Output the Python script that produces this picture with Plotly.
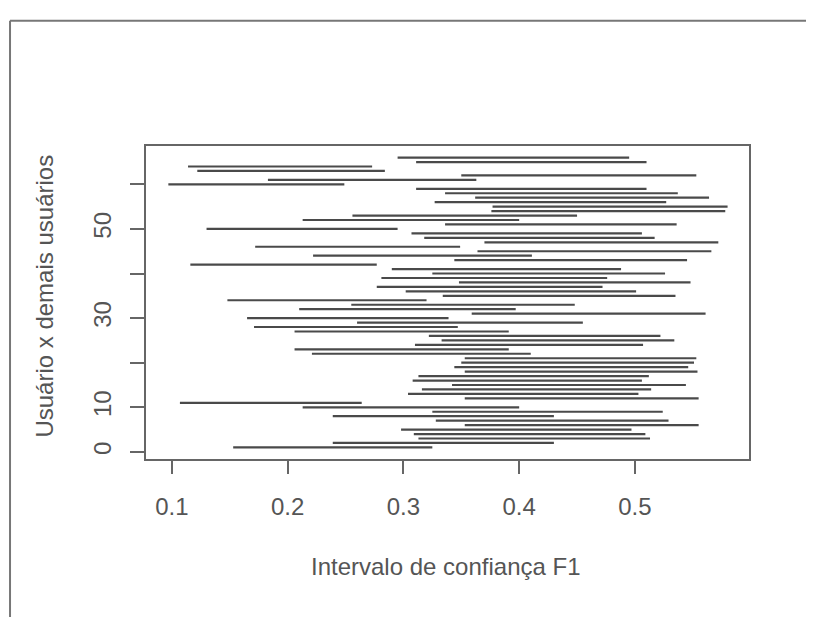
import plotly.graph_objects as go

# Data: user index and confidence interval bounds for F1
usuario = list(range(1, 67))
inferior = [0.153, 0.239, 0.313, 0.309, 0.298, 0.353, 0.328, 0.239, 0.325, 0.213,
            0.107, 0.353, 0.304, 0.316, 0.342, 0.308, 0.313, 0.353, 0.344, 0.350,
            0.353, 0.221, 0.206, 0.310, 0.333, 0.322, 0.206, 0.171, 0.260, 0.165,
            0.359, 0.210, 0.255, 0.148, 0.334, 0.302, 0.277, 0.348, 0.281, 0.325,
            0.290, 0.116, 0.344, 0.222, 0.364, 0.172, 0.370, 0.318, 0.307, 0.130,
            0.336, 0.213, 0.256, 0.376, 0.377, 0.327, 0.362, 0.336, 0.311, 0.097,
            0.183, 0.350, 0.122, 0.114, 0.311, 0.295]
superior = [0.325, 0.430, 0.513, 0.509, 0.497, 0.555, 0.529, 0.430, 0.524, 0.400,
            0.264, 0.555, 0.503, 0.514, 0.544, 0.506, 0.512, 0.554, 0.546, 0.551,
            0.553, 0.410, 0.391, 0.507, 0.534, 0.522, 0.391, 0.347, 0.455, 0.339,
            0.561, 0.397, 0.448, 0.320, 0.535, 0.501, 0.472, 0.548, 0.476, 0.526,
            0.488, 0.277, 0.545, 0.411, 0.566, 0.349, 0.572, 0.517, 0.506, 0.295,
            0.536, 0.400, 0.450, 0.578, 0.580, 0.527, 0.564, 0.537, 0.510, 0.249,
            0.363, 0.553, 0.284, 0.273, 0.510, 0.495]

x_ticks = [0.1, 0.2, 0.3, 0.4, 0.5]
x_ticktext = ["0.1", "0.2", "0.3", "0.4", "0.5"]
y_ticks = [0, 10, 20, 30, 40, 50, 60]
y_ticktext = ["0", "10", "", "30", "", "50", ""]

xs, ys = [], []
for u, lo, hi in zip(usuario, inferior, superior):
    xs += [lo, hi, None]
    ys += [u, u, None]

txt = "#555555"
font_family = "Liberation Sans, Arial, sans-serif"

fig = go.Figure()
fig.add_trace(go.Scatter(x=xs, y=ys, mode="lines",
                         line=dict(color="#4a4a4a", width=2.2),
                         hoverinfo="skip", showlegend=False))

fig.update_layout(
    width=806, height=609,
    margin=dict(l=138, r=65, t=138, b=158),
    paper_bgcolor="white", plot_bgcolor="white",
    font=dict(family=font_family, size=24, color=txt),
    showlegend=False,
)
fig.update_xaxes(range=[0.0777, 0.5985], tickvals=x_ticks, ticktext=x_ticktext,
                 showgrid=False, zeroline=False, showline=True, mirror=True,
                 linecolor="#666666", linewidth=1.5,
                 ticks="outside", ticklen=13, tickwidth=1.5, tickcolor="#666666",
                 ticklabelstandoff=12,
                 tickfont=dict(family=font_family, size=24, color=txt))
fig.update_yaxes(range=[-1.6, 68.6], tickvals=y_ticks, ticktext=y_ticktext,
                 showgrid=False, zeroline=False, showline=True, mirror=True,
                 linecolor="#666666", linewidth=1.5,
                 ticks="outside", ticklen=14, tickwidth=1.5, tickcolor="#666666",
                 tickangle=-90, ticklabelstandoff=10,
                 tickfont=dict(family=font_family, size=24, color=txt))

fig.add_annotation(text="Intervalo de confiança F1", xref="paper", yref="paper",
                   x=0.4975, y=-0.344, xanchor="center", yanchor="middle",
                   showarrow=False, font=dict(family=font_family, size=24, color=txt))
fig.add_annotation(text="Usuário x demais usuários", xref="paper", yref="paper",
                   x=-0.1675, y=0.522, xanchor="center", yanchor="middle", textangle=-90,
                   showarrow=False, font=dict(family=font_family, size=24, color=txt))

# outer frame (left and top borders of the screenshot)
frame = "#777777"
fig.add_shape(type="line", xref="paper", yref="paper", x0=-0.2255, x1=-0.2255,
              y0=1.4, y1=-0.52, line=dict(color=frame, width=2))
fig.add_shape(type="line", xref="paper", yref="paper", x0=-0.2255, x1=1.12,
              y0=1.4, y1=1.4, line=dict(color=frame, width=2))

fig.write_html("out.html")
